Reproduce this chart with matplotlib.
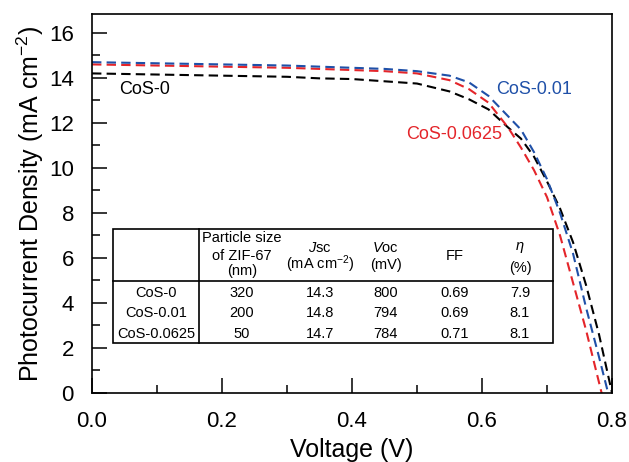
import matplotlib
matplotlib.use('Agg')
import matplotlib.pyplot as plt
from matplotlib.ticker import MultipleLocator

plt.rcParams['font.family'] = ['Liberation Sans', 'DejaVu Sans']
plt.rcParams['mathtext.fontset'] = 'custom'
plt.rcParams['mathtext.rm'] = 'Liberation Sans'
plt.rcParams['mathtext.it'] = 'Liberation Sans:italic'

# J-V curves
v_cos0 = [0, 0.1, 0.2, 0.3, 0.35, 0.4, 0.45, 0.5, 0.55, 0.58, 0.61, 0.64, 0.66, 0.68, 0.70, 0.72, 0.74, 0.76, 0.78, 0.80]
j_cos0 = [14.2, 14.15, 14.1, 14.05, 13.98, 13.95, 13.85, 13.75, 13.4, 13.05, 12.6, 11.8, 11.3, 10.5, 9.4, 8.2, 6.7, 4.8, 2.6, 0]

v_cos001 = [0, 0.1, 0.2, 0.3, 0.4, 0.45, 0.5, 0.55, 0.58, 0.61, 0.64, 0.66, 0.68, 0.70, 0.72, 0.74, 0.76, 0.78, 0.794]
j_cos001 = [14.7, 14.65, 14.6, 14.55, 14.45, 14.4, 14.3, 14.1, 13.8, 13.2, 12.3, 11.7, 10.7, 9.5, 8.0, 6.2, 3.8, 1.6, 0]

v_cos0625 = [0, 0.1, 0.2, 0.3, 0.4, 0.45, 0.5, 0.55, 0.58, 0.61, 0.64, 0.66, 0.68, 0.70, 0.72, 0.74, 0.76, 0.784]
j_cos0625 = [14.6, 14.55, 14.5, 14.45, 14.35, 14.3, 14.2, 13.9, 13.5, 12.9, 11.8, 10.9, 9.9, 8.7, 7.0, 4.9, 2.8, 0]

# table contents
row_names = ['CoS-0', 'CoS-0.01', 'CoS-0.0625']
particle_size = ['320', '200', '50']
jsc = ['14.3', '14.8', '14.7']
voc = ['800', '794', '784']
ff = ['0.69', '0.69', '0.71']
eta = ['7.9', '8.1', '8.1']

fig = plt.figure(figsize=(6.29, 4.62), dpi=100)
ax = fig.add_axes([0.1463, 0.1494, 0.8267, 0.8203])

ls = dict(linestyle=(0, (4.5, 2.5)), linewidth=1.5)
ax.plot(v_cos0, j_cos0, color='black', **ls)
ax.plot(v_cos0625, j_cos0625, color='#e4252a', **ls)
ax.plot(v_cos001, j_cos001, color='#1f50a8', **ls)

ax.text(0.042, 13.47, 'CoS-0', color='black', fontsize=13, va='center')
ax.text(0.622, 13.5, 'CoS-0.01', color='#1f50a8', fontsize=13, va='center')
ax.text(0.483, 11.5, 'CoS-0.0625', color='#e4252a', fontsize=13, va='center')

ax.set_xlim(0, 0.8)
ax.set_ylim(0, 16.84)
ax.xaxis.set_major_locator(MultipleLocator(0.2))
ax.xaxis.set_minor_locator(MultipleLocator(0.1))
ax.yaxis.set_major_locator(MultipleLocator(2))
ax.yaxis.set_minor_locator(MultipleLocator(1))
ax.xaxis.set_major_formatter(matplotlib.ticker.FormatStrFormatter('%.1f'))
ax.tick_params(which='major', direction='in', length=11, width=1.1, labelsize=16, pad=13)
ax.tick_params(which='minor', direction='in', length=6, width=1.1)
for s in ax.spines.values():
    s.set_linewidth(1.2)
ax.set_xlabel('Voltage (V)', fontsize=18, labelpad=4)
ax.set_ylabel('Photocurrent Density (mA cm$^{-2}$)', fontsize=18, labelpad=2)

# inset table
t = ax.transAxes
tl, tr, tt, tb = 0.0410, 0.8865, 0.4327, 0.1311
ax.add_patch(plt.Rectangle((tl, tb), tr - tl, tt - tb, transform=t, fill=True,
                           facecolor='white', edgecolor='black', linewidth=1.2, zorder=3))
ax.plot([tl, tr], [0.2955, 0.2955], transform=t, color='black', linewidth=1.2, zorder=4)
ax.plot([0.2064, 0.2064], [tb, tt], transform=t, color='black', linewidth=1.2, zorder=4)

tk = dict(transform=t, ha='center', va='center', fontsize=10.5, zorder=5)
cx = [0.123, 0.288, 0.4385, 0.565, 0.698, 0.823]
ax.text(cx[1], 0.4082, 'Particle size', **tk)
ax.text(cx[1], 0.3623, 'of ZIF-67', **tk)
ax.text(cx[1], 0.3219, '(nm)', **tk)
ax.text(cx[2], 0.383, '$J$sc', **tk)
ax.text(cx[2], 0.339, '(mA cm$^{-2}$)', **tk)
ax.text(cx[3], 0.383, '$V$oc', **tk)
ax.text(cx[3], 0.339, '(mV)', **tk)
ax.text(cx[4], 0.3623, 'FF', **tk)
ax.text(cx[5], 0.383, r'$\eta$', **tk)
ax.text(cx[5], 0.331, '(%)', **tk)

row_y = [0.2630, 0.2102, 0.1548]
for i, y in enumerate(row_y):
    for c, col in zip(cx, [row_names, particle_size, jsc, voc, ff, eta]):
        ax.text(c, y, col[i], **tk)

fig.savefig('out.png', dpi=100)
